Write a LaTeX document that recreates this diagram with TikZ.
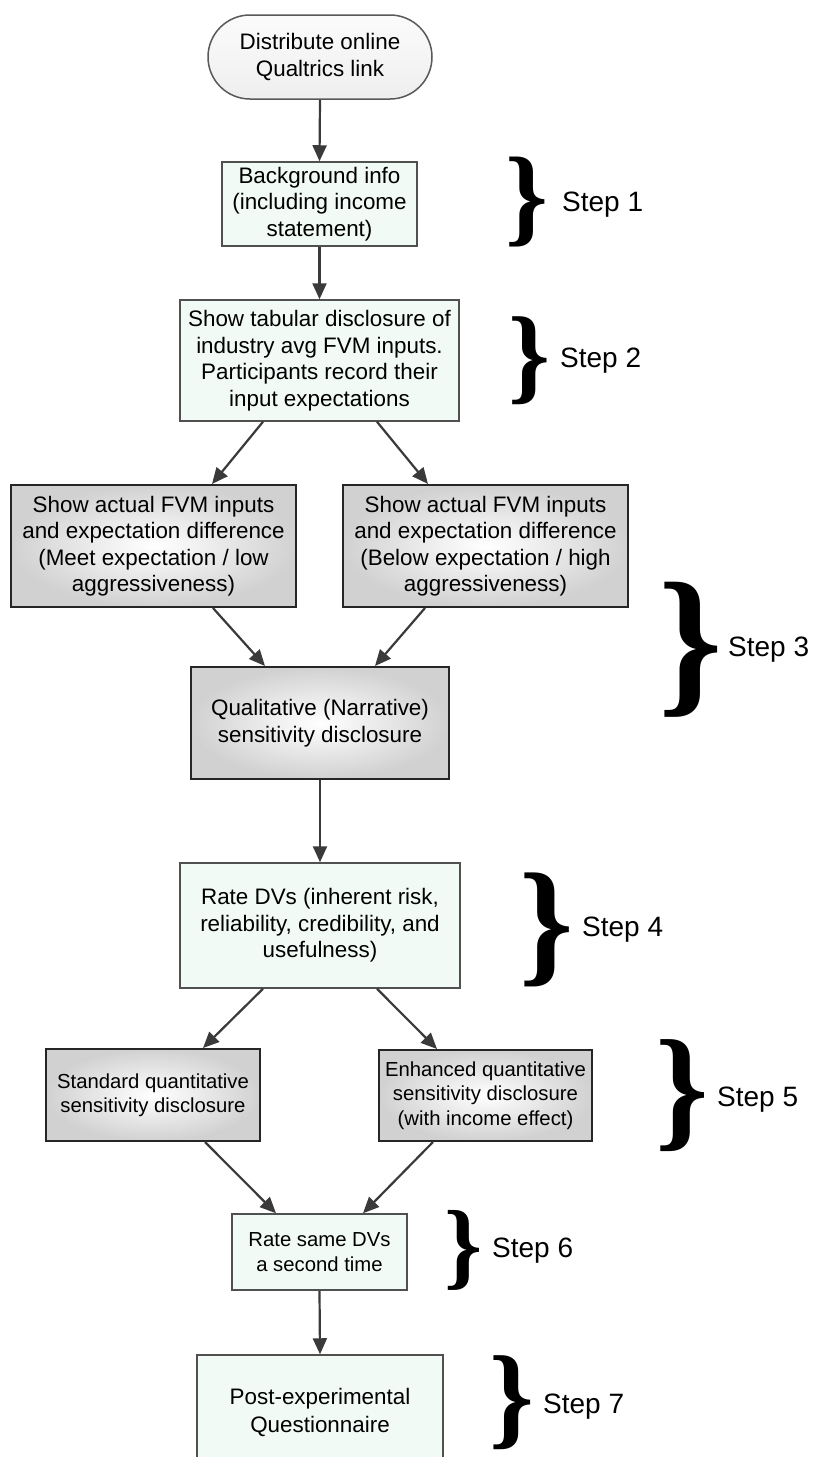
\documentclass[tikz,border=0pt]{standalone}
\usepackage{fontspec}
\setmainfont{Liberation Sans}
\newfontfamily\braceface{Liberation Serif Bold}
\usetikzlibrary{arrows.meta,shapes.misc}
\definecolor{mint}{HTML}{F2FAF6}
\definecolor{boxline}{HTML}{505050}
\definecolor{arrowgray}{HTML}{3A3A3A}
\newcommand{\bigbrace}[1]{\resizebox*{!}{#1}{\braceface\}}}
\tikzset{
  lightbox/.style={draw=boxline, line width=1.5pt, fill=mint, align=center,
    font=\fontsize{22.4}{26.5}\selectfont, inner sep=0pt},
  graybox/.style={draw=black!85, line width=2pt, inner color=white, outer color=gray!36,
    align=center, font=\fontsize{22.4}{26.5}\selectfont, inner sep=0pt},
  smallgray/.style={graybox, font=\fontsize{20.3}{24.5}\selectfont},
  startnode/.style={rounded rectangle, draw=gray!70!black, line width=1.5pt,
    top color=gray!3, bottom color=gray!13, align=center,
    font=\fontsize{22.4}{26.5}\selectfont, inner sep=0pt},
  arr/.style={-{Triangle[length=16pt,width=14pt]}, line width=2.2pt, draw=arrowgray},
  bracenode/.style={inner sep=0pt, outer sep=0pt},
  steplabel/.style={anchor=west, inner sep=0pt, font=\fontsize{28}{32}\selectfont}
}
\begin{document}
\begin{tikzpicture}[x=1pt,y=-1pt]
\useasboundingbox (0,0) rectangle (815,1457);
\fill[white] (0,0) rectangle (815,1457);

% nodes
\node[startnode, minimum width=224pt, minimum height=84pt] (start) at (320,57)
  {Distribute online\\Qualtrics link};
\node[lightbox, minimum width=195pt, minimum height=84pt] (b1) at (319.5,204)
  {Background info\\(including income\\statement)};
\node[lightbox, minimum width=279pt, minimum height=121pt] (b2) at (319.5,360.5)
  {Show tabular disclosure of\\industry avg FVM inputs.\\Participants record their\\input expectations};
\node[graybox, minimum width=285pt, minimum height=122pt] (b3l) at (153.5,546)
  {Show actual FVM inputs\\and expectation difference\\(Meet expectation / low\\aggressiveness)};
\node[graybox, minimum width=285pt, minimum height=122pt] (b3r) at (485.5,546)
  {Show actual FVM inputs\\and expectation difference\\(Below expectation / high\\aggressiveness)};
\node[graybox, minimum width=258pt, minimum height=112pt] (qual) at (320,723)
  {Qualitative (Narrative)\\sensitivity disclosure};
\node[lightbox, minimum width=280pt, minimum height=125pt] (b4) at (320,925.5)
  {Rate DVs (inherent risk,\\reliability, credibility, and\\usefulness)};
\node[smallgray, minimum width=214pt, minimum height=92pt] (b5l) at (153,1095)
  {Standard quantitative\\sensitivity disclosure};
\node[smallgray, minimum width=213pt, minimum height=91pt] (b5r) at (485.5,1095.5)
  {Enhanced quantitative\\sensitivity disclosure\\(with income effect)};
\node[lightbox, font=\fontsize{20.3}{25}\selectfont, minimum width=175pt, minimum height=76pt] (b6) at (319.5,1252)
  {Rate same DVs\\a second time};
\node[lightbox, font=\fontsize{22.4}{28}\selectfont, minimum width=246pt, minimum height=115pt] (b7) at (320,1412.5)
  {Post-experimental\\Questionnaire};

% connectors
\draw[arr] (start.south) -- (b1.north);
\draw[arr] (b1.south) -- (b2.north);
\draw[arr] ([xshift=-56.5pt]b2.south) -- ([xshift=58.5pt]b3l.north);
\draw[arr] ([xshift=57.5pt]b2.south) -- ([xshift=-57.5pt]b3r.north);
\draw[arr] ([xshift=59.5pt]b3l.south) -- ([xshift=-55pt]qual.north);
\draw[arr] ([xshift=-60.5pt]b3r.south) -- ([xshift=55pt]qual.north);
\draw[arr] (qual.south) -- (b4.north);
\draw[arr] ([xshift=-57pt]b4.south) -- ([xshift=50pt]b5l.north);
\draw[arr] ([xshift=57pt]b4.south) -- ([xshift=-48.5pt]b5r.north);
\draw[arr] ([xshift=52pt]b5l.south) -- ([xshift=-43.5pt]b6.north);
\draw[arr] ([xshift=-52.5pt]b5r.south) -- ([xshift=43.5pt]b6.north);
\draw[arr] (b6.south) -- (b7.north);

% braces and step labels
\node[bracenode] (br1) at (527,202) {\bigbrace{90pt}};
\node[steplabel] (s1) at (562,205) {Step 1};
\node[bracenode] (br2) at (529,361) {\bigbrace{88pt}};
\node[steplabel] (s2) at (560,361) {Step 2};
\node[bracenode] (br3) at (691,650) {\bigbrace{135pt}};
\node[steplabel] (s3) at (728,650) {Step 3};
\node[bracenode] (br4) at (547,930) {\bigbrace{114pt}};
\node[steplabel] (s4) at (582,930) {Step 4};
\node[bracenode] (br5) at (682,1096) {\bigbrace{112pt}};
\node[steplabel] (s5) at (717,1100) {Step 5};
\node[bracenode] (br6) at (464,1250) {\bigbrace{80pt}};
\node[steplabel] (s6) at (492,1251) {Step 6};
\node[bracenode] (br7) at (512,1403) {\bigbrace{94pt}};
\node[steplabel] (s7) at (543,1407) {Step 7};
\end{tikzpicture}
\end{document}
